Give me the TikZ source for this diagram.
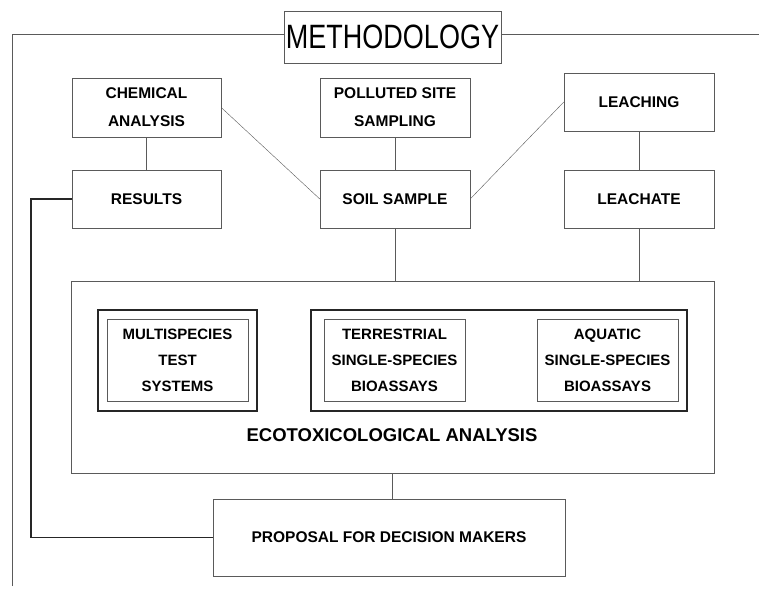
\documentclass[tikz,border=0pt]{standalone}
\usepackage{fontspec}
\setmainfont{Liberation Sans}
\usepackage{graphicx}
\usetikzlibrary{calc}
\definecolor{rahmen}{RGB}{90,90,90}
\colorlet{rahmen-dark}{black!85}

\tikzset{
	kasten/.style={draw=rahmen, thin, minimum width=#1, inner sep=0pt, align=center, font=\bfseries\fontsize{15.5}{28}\selectfont},
	kasten/.default=150pt,
	innen/.style={draw=rahmen, thin, minimum width=141pt, minimum height=82pt, inner sep=0pt, align=center, font=\bfseries\fontsize{15}{26}\selectfont},
	gruppe/.style={draw=rahmen-dark, line width=1.6pt, inner sep=0pt},
	linie/.style={rahmen, thin}
}

\begin{document}
\begin{tikzpicture}[x=1pt, y=-1pt]

	\useasboundingbox (0,0) rectangle (759,593);

	% title and frame
	\node[draw=rahmen, thin, minimum width=217pt, minimum height=52pt, inner sep=0pt] (title) at (392.5,37) {\fontsize{27}{30}\selectfont\scalebox{1}[1.25]{METHODOLOGY}};
	\coordinate (frameTL) at (12,34);
	\coordinate (frameBL) at (12,586);
	\coordinate (frameR) at (759,34);
	\draw[linie] (frameBL) -- (frameTL) -- (frameTL -| title.west);
	\draw[linie] (frameR -| title.east) -- (frameR);

	% upper rows
	\node[kasten=149pt, minimum height=59pt] (chem) at (146.5,107.5) {CHEMICAL\\ANALYSIS};
	\node[kasten, minimum height=59pt] (polluted) at (395,107.5) {POLLUTED SITE\\SAMPLING};
	\node[kasten, minimum height=58pt] (leaching) at (639,102) {LEACHING};
	\node[kasten=149pt, minimum height=58pt] (results) at (146.5,199) {RESULTS};
	\node[kasten, minimum height=58pt] (soil) at (395,199) {SOIL SAMPLE};
	\node[kasten, minimum height=58pt] (leachate) at (639,199) {LEACHATE};

	\draw[linie] (chem) -- (results);
	\draw[linie] (polluted) -- (soil);
	\draw[linie] (leaching) -- (leachate);
	\draw[linie] (chem.east) -- (soil.west);
	\draw[linie] (soil.east) -- (leaching.west);

	% ecotoxicological analysis
	\node[draw=rahmen, thin, minimum width=643pt, minimum height=192pt, inner sep=0pt] (eco) at (392.5,377) {};
	\node[gruppe, minimum width=159pt, minimum height=101pt] (multiframe) at (177.5,360.5) {};
	\node[innen] (multi) at (177.5,360) {MULTISPECIES\\TEST\\SYSTEMS};
	\node[gruppe, minimum width=376pt, minimum height=101pt] (singleframe) at (499,360.5) {};
	\node[innen] (terr) at (394.5,360) {TERRESTRIAL\\SINGLE-SPECIES\\BIOASSAYS};
	\node[innen] (aqua) at (607.5,360) {AQUATIC\\SINGLE-SPECIES\\BIOASSAYS};
	\node[font=\bfseries\fontsize{18.5}{22}\selectfont] (ecolabel) at (392,435) {ECOTOXICOLOGICAL ANALYSIS};

	\draw[linie] (soil.south) -- (soil.south |- eco.north);
	\draw[linie] (leachate.south) -- (leachate.south |- eco.north);

	% proposal
	\node[kasten=352pt, minimum height=77pt] (proposal) at (389,537.5) {PROPOSAL FOR DECISION MAKERS};
	\draw[linie] (eco.south) -- (eco.south |- proposal.north);
	\draw[rahmen-dark, line width=1.4pt] (results.west) -- (31,199) |- (proposal.west);

\end{tikzpicture}
\end{document}
